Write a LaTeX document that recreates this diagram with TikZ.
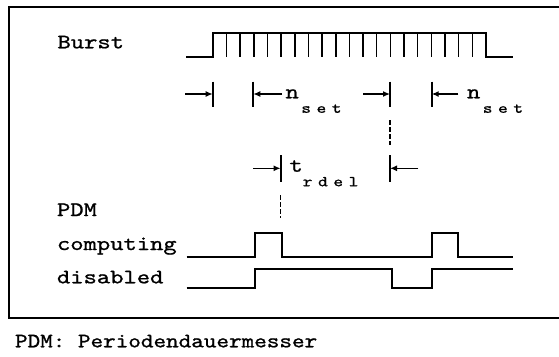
\documentclass[tikz,border=0pt]{standalone}
\usepackage{graphicx}
\usepackage{fontspec}
\setmonofont[FakeBold=0.9]{lmmono10-regular.otf}
\usetikzlibrary{arrows.meta}

% wide typewriter labels and the spaced, dropped index
\newcommand{\tw}[1]{\scalebox{1.236}[1]{\fontsize{8.2}{10}\selectfont\ttfamily #1}}
\newcommand{\subtt}[1]{\raisebox{-5.8pt}{\fontsize{6}{6}\selectfont\ttfamily #1}}

\tikzset{
  sig/.style={line width=0.85pt},
  burstick/.style={line width=0.65pt},
  dimarr/.style={line width=0.5pt, -{Latex[length=2.8pt,width=2.4pt]}},
  dimbar/.style={line width=0.8pt},
  marker/.style={line width=0.5pt, dash pattern=on 2pt off 0.8pt},
  lbl/.style={anchor=base west, inner sep=0pt},
}

\begin{document}
\begin{tikzpicture}[x=0.4pt,y=-0.4pt]
\useasboundingbox (0,0) rectangle (559,356);
\def\bl{56.7}
\def\bh{33.3}
\def\cl{256.7}
\def\ch{232.7}
\def\dl{288.3}
\def\dh{269.3}
\def\rowa{94}
\def\rowb{168.3}

\draw[line width=0.8pt] (565,7.3) -- (9.3,7.3) -- (9.3,318) -- (565,318);

% burst with its pulses
\draw[sig] (186,\bl) -- (212.7,\bl) -- (212.7,\bh) -- (486,\bh) -- (486,\bl) -- (513.3,\bl);
\foreach \i in {1,...,19}
  \draw[burstick] ({212.7+\i*13.665},\bh) -- ++(0,23.4);

% computing and disabled
\draw[sig] (186.7,\cl) -- (255,\cl) -- (255,\ch) -- (281.7,\ch) -- (281.7,\cl)
  -- (431.7,\cl) -- (431.7,\ch) -- (458.3,\ch) -- (458.3,\cl) -- (513.3,\cl);
\draw[sig] (186.7,\dl) -- (255,\dl) -- (255,\dh) -- (391.7,\dh) -- (391.7,\dl)
  -- (431.7,\dl) -- (431.7,\dh) -- (513.3,\dh);

% intervals
\foreach \from/\to in {185/212.7, 282/253.3, 363.3/390, 458.3/431.7} {
  \draw[dimarr] (\from,\rowa) -- (\to,\rowa);
  \draw[dimbar] (\to,81.7) -- (\to,106.7);
}
\foreach \from/\to in {253/280.5, 418.3/390} {
  \draw[dimarr] (\from,\rowb) -- (\to,\rowb);
  \draw[dimbar] (\to,155) -- (\to,181.7);
}
\draw[marker] (390,120) -- (390,145);
\draw[marker] (280.5,195) -- (280.5,218);

\node[lbl] (burst) at (57,48.3) {\tw{Burst}};
\node[lbl] (nseta) at (285,98.3) {\tw{n\hspace{0.8pt}\subtt{s\hspace{1.8pt}e\hspace{1.8pt}t}}};
\node[lbl] (nsetb) at (466.5,98.3) {\tw{n\hspace{0.8pt}\subtt{s\hspace{1.8pt}e\hspace{1.8pt}t}}};
\node[lbl] (trdel) at (289,171.7) {\tw{t\subtt{r\hspace{1.8pt}d\hspace{1.8pt}e\hspace{1.8pt}l}}};
\node[lbl] (pdm) at (56.5,216) {\tw{PDM}};
\node[lbl] (comp) at (56.5,250) {\tw{computing}};
\node[lbl] (dis) at (56.5,283.3) {\tw{disabled}};
\node[lbl] (legend) at (14.5,347.3)
  {\scalebox{1.17}[1]{\fontsize{8.2}{10}\selectfont\ttfamily PDM: Periodendauermesser}};
\end{tikzpicture}
\end{document}
